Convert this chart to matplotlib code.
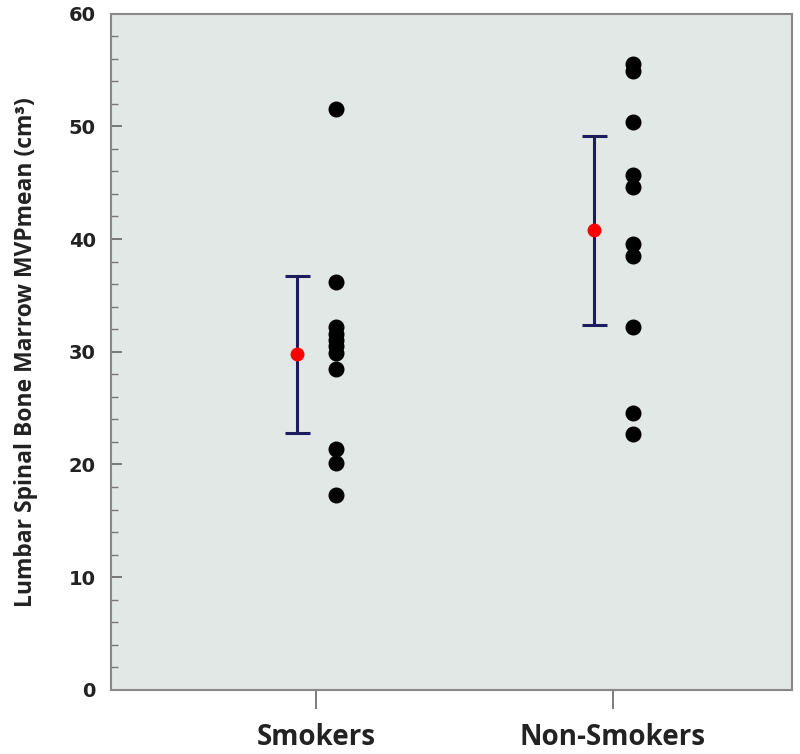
import matplotlib.pyplot as plt
from matplotlib.ticker import MultipleLocator

# Data
groups = ['Smokers', 'Non-Smokers']
smokers = [51.5, 36.2, 32.2, 31.6, 31.0, 30.5, 29.9, 28.5, 21.4, 20.1, 17.3]
non_smokers = [55.5, 54.9, 50.4, 45.7, 44.6, 39.6, 38.5, 32.2, 24.6, 22.7]
means = [29.8, 40.8]
err_low = [22.8, 32.4]
err_high = [36.7, 49.1]

fig = plt.figure(figsize=(8, 7.54), dpi=100)
ax = fig.add_axes([0.139, 0.085, 0.851, 0.897])
ax.set_facecolor('#e2e8e5')

xpos = [1, 2]
mean_off = -0.064
dot_off = 0.067

# individual points
for x, vals in zip(xpos, [smokers, non_smokers]):
    ax.plot([x + dot_off] * len(vals), vals, 'o', color='black',
            markersize=10.5, linestyle='none', zorder=3)

# mean with error bars
yerr = [[m - lo for m, lo in zip(means, err_low)],
        [hi - m for m, hi in zip(means, err_high)]]
ax.errorbar([x + mean_off for x in xpos], means, yerr=yerr, fmt='none',
            ecolor='#1c1c5e', elinewidth=2.2, capsize=9, capthick=2.2, zorder=2)
ax.plot([x + mean_off for x in xpos], means, 'o', color='red',
        markersize=9, zorder=4)

ax.set_xlim(0.31, 2.603)
ax.set_ylim(0, 60)
ax.set_xticks(xpos)
ax.set_xticklabels(groups, fontsize=20, fontfamily='Open Sans', fontweight='bold',
                   color='#222222')
ax.yaxis.set_major_locator(MultipleLocator(10))
ax.yaxis.set_minor_locator(MultipleLocator(2))
for lab in ax.get_yticklabels():
    lab.set_fontweight('bold')
    lab.set_fontsize(14)
    lab.set_color('#222222')

ax.tick_params(axis='y', which='major', direction='in', length=8, width=1.2, color='#666666', pad=11)
ax.tick_params(axis='y', which='minor', direction='in', length=5, width=1, color='#777777')
ax.tick_params(axis='x', which='major', direction='out', length=14, width=1.2, color='#666666', pad=10)

for s in ax.spines.values():
    s.set_color('#888888')
    s.set_linewidth(1.5)

ax.set_ylabel('Lumbar Spinal Bone Marrow MVPmean (cm³)', fontsize=16.5,
              fontfamily='Open Sans', fontweight='bold', labelpad=22,
              color='#222222')

fig.savefig('out.png', dpi=100, facecolor='white')
